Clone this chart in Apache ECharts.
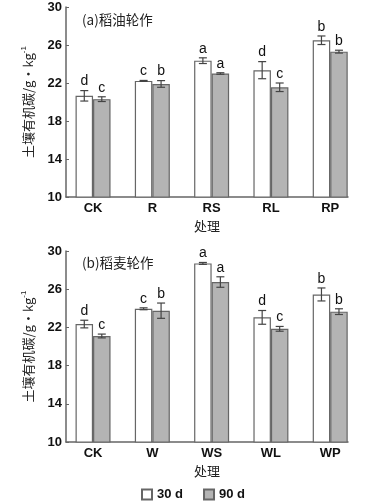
<!DOCTYPE html>
<html><head><meta charset="utf-8">
<script src="https://cdn.jsdelivr.net/npm/echarts@6/dist/echarts.min.js"></script>
<style>html,body{margin:0;padding:0;background:#fff}#c{width:392px;height:503px}</style>
</head><body><div id="c"></div>
<script>
const catsA = ['CK','R','RS','RL','RP'];
const catsB = ['CK','W','WS','WL','WP'];
const a30 = [20.65, 22.22, 24.35, 23.35, 26.5];
const a30err = [0.55, 0.05, 0.3, 0.9, 0.45];
const a90 = [20.3, 21.9, 23.0, 21.55, 25.3];
const a90err = [0.25, 0.35, 0.08, 0.45, 0.15];
const a30sig = ['d','c','a','d','b'];
const a90sig = ['c','b','a','c','b'];
const b30 = [22.35, 23.95, 28.7, 23.05, 25.45];
const b30err = [0.4, 0.1, 0.1, 0.72, 0.68];
const b90 = [21.1, 23.75, 26.75, 21.85, 23.65];
const b90err = [0.2, 0.8, 0.55, 0.25, 0.3];
const b30sig = ['d','c','a','d','b'];
const b90sig = ['c','b','a','c','b'];
const yTicks = [10, 14, 18, 22, 26, 30];
const seriesNames = ['30 d', '90 d'];

const FONT = 'Liberation Sans, Arial, sans-serif';
const CJK = 'Noto Sans CJK SC, sans-serif';
const BW = 17.5;
const chart = echarts.init(document.getElementById('c'));

function xAxis(gi, cats) {
  return {
    type: 'value', gridIndex: gi, min: -0.456, max: 4.3,
    axisLine: {show: true, onZero: false, lineStyle: {color: '#666', width: 1.5}},
    axisTick: {show: false}, splitLine: {show: false},
    axisLabel: {customValues: [0,1,2,3,4], formatter: v => cats[Math.round(v)] || '',
      color: '#111', fontSize: 13, fontFamily: FONT, fontWeight: 'bold', margin: 5},
    name: '处理', nameLocation: 'middle', nameGap: 23,
    nameTextStyle: {color: '#222', fontSize: 13, fontFamily: CJK}
  };
}
function yAxis(gi) {
  return {
    type: 'value', gridIndex: gi, min: yTicks[0], max: yTicks[yTicks.length-1], interval: 4,
    axisLine: {show: true, onZero: false, lineStyle: {color: '#666', width: 1.5}},
    axisTick: {show: true, inside: true, length: 3, lineStyle: {color: '#666'}},
    splitLine: {show: false},
    axisLabel: {color: '#111', fontSize: 13, fontFamily: FONT, fontWeight: 'bold', margin: 4},
    name: '{n|土壤有机碳/g·kg}{s|-1}', nameLocation: 'middle', nameGap: 30,
    nameTextStyle: {rich: {
      n: {fontSize: 13, fontFamily: CJK, color: '#222'},
      s: {fontSize: 8, fontFamily: FONT, color: '#222', verticalAlign: 'top', padding: [0,0,8,0]}
    }}
  };
}
function barSeries(gi, name, vals, fill) {
  return {
    type: 'bar', name: name, xAxisIndex: gi, yAxisIndex: gi,
    data: vals.map((v, i) => [i, v]), barWidth: BW, barGap: '0%',
    itemStyle: {color: fill, borderColor: '#666', borderWidth: 1.2},
    z: 2
  };
}
function errSeries(gi, vals, errs, sigs, side) {
  return {
    type: 'custom', xAxisIndex: gi, yAxisIndex: gi, z: 5, silent: true,
    data: vals.map((v, i) => [i, v, errs[i]]),
    renderItem: function (params, api) {
      const i = api.value(0), v = api.value(1), e = api.value(2);
      const sig = sigs[params.dataIndex];
      const cx = api.coord([i, v])[0] + side * BW / 2;
      const yHi = api.coord([i, v + e])[1];
      const yLo = api.coord([i, v - e])[1];
      const cap = 4;
      const st = {stroke: '#444', lineWidth: 1.2};
      return {type: 'group', children: [
        {type: 'line', shape: {x1: cx, y1: yHi, x2: cx, y2: yLo}, style: st},
        {type: 'line', shape: {x1: cx - cap, y1: yHi, x2: cx + cap, y2: yHi}, style: st},
        {type: 'line', shape: {x1: cx - cap, y1: yLo, x2: cx + cap, y2: yLo}, style: st},
        {type: 'text', x: cx, y: yHi - 2, style: {text: sig, fill: '#111', fontSize: 14,
          fontFamily: FONT, align: 'center', verticalAlign: 'bottom'}}
      ]};
    }
  };
}

chart.setOption({
  animation: false,
  grid: [
    {left: 66, right: 44, top: 7, height: 190},
    {left: 66, right: 44, top: 251, height: 191}
  ],
  title: [
    {text: '(a)稻油轮作', left: 77, top: 8, textStyle: {fontSize: 13.5, fontWeight: 'normal', fontFamily: CJK, color: '#222'}},
    {text: '(b)稻麦轮作', left: 77, top: 251, textStyle: {fontSize: 13.5, fontWeight: 'normal', fontFamily: CJK, color: '#222'}}
  ],
  legend: {
    data: seriesNames, left: 136, top: 483, itemWidth: 10, itemHeight: 10, itemGap: 20,
    icon: 'rect', textStyle: {fontSize: 13, fontFamily: FONT, fontWeight: 'bold', color: '#111'}
  },
  xAxis: [xAxis(0, catsA), xAxis(1, catsB)],
  yAxis: [yAxis(0), yAxis(1)],
  series: [
    barSeries(0, seriesNames[0], a30, '#ffffff'),
    barSeries(0, seriesNames[1], a90, '#b4b4b4'),
    barSeries(1, seriesNames[0], b30, '#ffffff'),
    barSeries(1, seriesNames[1], b90, '#b4b4b4'),
    errSeries(0, a30, a30err, a30sig, -1),
    errSeries(0, a90, a90err, a90sig, 1),
    errSeries(1, b30, b30err, b30sig, -1),
    errSeries(1, b90, b90err, b90sig, 1)
  ]
});
</script></body></html>
